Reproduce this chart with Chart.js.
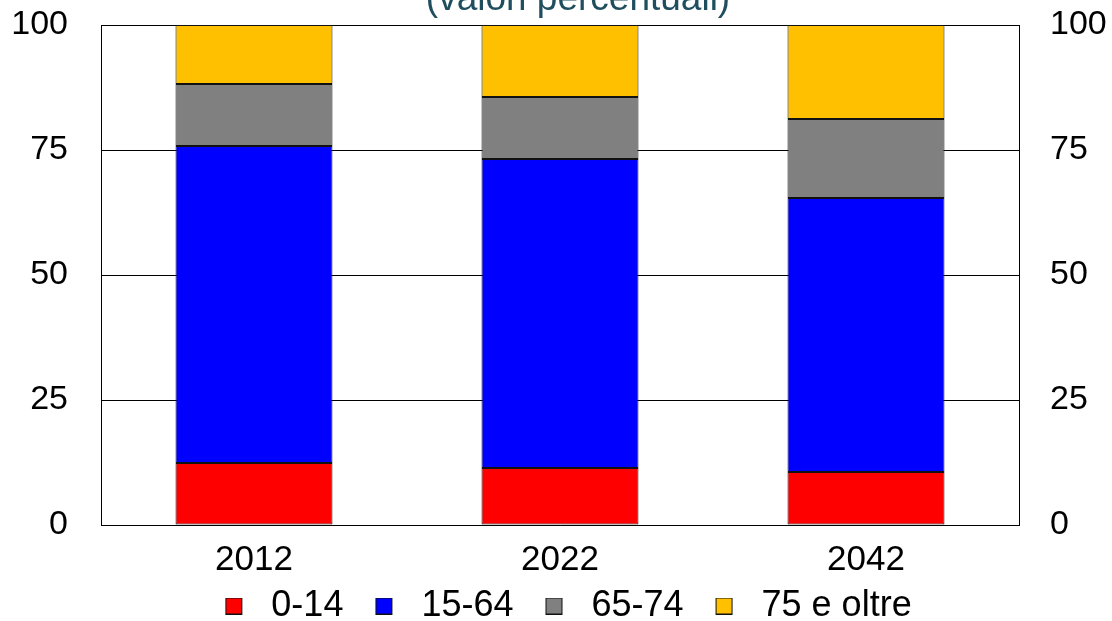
<!DOCTYPE html>
<html>
<head>
<meta charset="utf-8">
<script src="https://cdn.jsdelivr.net/npm/chart.js@4"></script>
<style>
  body { margin: 0; background: #fff; }
  #box { width: 1112px; height: 621px; position: relative; }
</style>
</head>
<body>
<div id="box"><canvas id="grafico"></canvas></div>
<script>
const anni = ['2012', '2022', '2042'];
const eta0_14 = [12.4, 11.4, 10.6];
const eta15_64 = [63.4, 61.8, 54.8];
const eta65_74 = [12.4, 12.4, 15.8];
const eta75 = [11.8, 14.4, 18.8];
const tickY = [0, 25, 50, 75, 100];
const titolo = '(valori percentuali)';

Chart.defaults.font.family = '"Liberation Sans", Arial, sans-serif';
Chart.defaults.color = '#000';

// titolo tagliato in alto, come nell'originale
const titoloPlugin = {
    id: 'titolo',
    afterDraw(chart) {
        const c = chart.ctx;
        c.save();
        c.font = '37px "Liberation Sans", Arial, sans-serif';
        c.fillStyle = '#1f4e5f';
        c.textAlign = 'center';
        c.textBaseline = 'alphabetic';
        c.fillText(titolo, 578, 10);
        c.restore();
    }
};

// quadratino della legenda con spazio vuoto a sinistra e a destra
const SX = 25, LATO = 17, DX = 11;
function quadratino(colore) {
    const c = document.createElement('canvas');
    c.width = SX + LATO + DX;
    c.height = LATO;
    const g = c.getContext('2d');
    g.fillStyle = colore;
    g.fillRect(SX, 0, LATO, LATO);
    g.strokeStyle = '#111';
    g.lineWidth = 1;
    g.strokeRect(SX + 0.5, 0.5, LATO - 1, LATO - 1);
    return c;
}

const serie = (label, data, colore) => ({
    label: label,
    data: data,
    backgroundColor: colore,
    borderColor: '#111',
    borderWidth: 1,
    borderSkipped: false,
    categoryPercentage: 1,
    barPercentage: 0.513,
    pointStyle: quadratino(colore)
});

new Chart(document.getElementById('grafico').getContext('2d'), {
    type: 'bar',
    data: {
        labels: anni,
        datasets: [
            serie('0-14', eta0_14, '#ff0000'),
            serie('15-64', eta15_64, '#0000ff'),
            serie('65-74', eta65_74, '#808080'),
            serie('75 e oltre', eta75, '#ffc000')
        ]
    },
    options: {
        responsive: true,
        maintainAspectRatio: false,
        animation: false,
        layout: { padding: { top: 25, left: 0, right: 0, bottom: -13 } },
        plugins: {
            legend: {
                position: 'bottom',
                labels: {
                    usePointStyle: true,
                    pointStyleWidth: SX + LATO + DX,
                    padding: 7,
                    font: { size: 36 }
                }
            },
            tooltip: { enabled: false },
            title: { display: false }
        },
        scales: {
            x: {
                stacked: true,
                grid: { display: false, drawTicks: false },
                border: { color: '#000', width: 1 },
                ticks: { font: { size: 35 }, padding: 14 },
                afterFit: s => { s.height = 56; }
            },
            y: {
                stacked: true,
                min: 0,
                max: 100,
                afterBuildTicks: s => { s.ticks = tickY.map(v => ({ value: v })); },
                afterFit: s => { s.paddingTop = 0; s.paddingBottom = 0; s.width = 101; },
                grid: { color: '#000', drawTicks: false },
                border: { color: '#000', width: 1 },
                ticks: { font: { size: 34 }, padding: 33 }
            },
            y2: {
                position: 'right',
                min: 0,
                max: 100,
                afterBuildTicks: s => { s.ticks = tickY.map(v => ({ value: v })); },
                afterFit: s => { s.paddingTop = 0; s.paddingBottom = 0; s.width = 93; },
                grid: { display: false, drawTicks: false },
                border: { color: '#000', width: 1 },
                ticks: { font: { size: 34 }, padding: 31 }
            }
        }
    },
    plugins: [titoloPlugin]
});
</script>
</body>
</html>
